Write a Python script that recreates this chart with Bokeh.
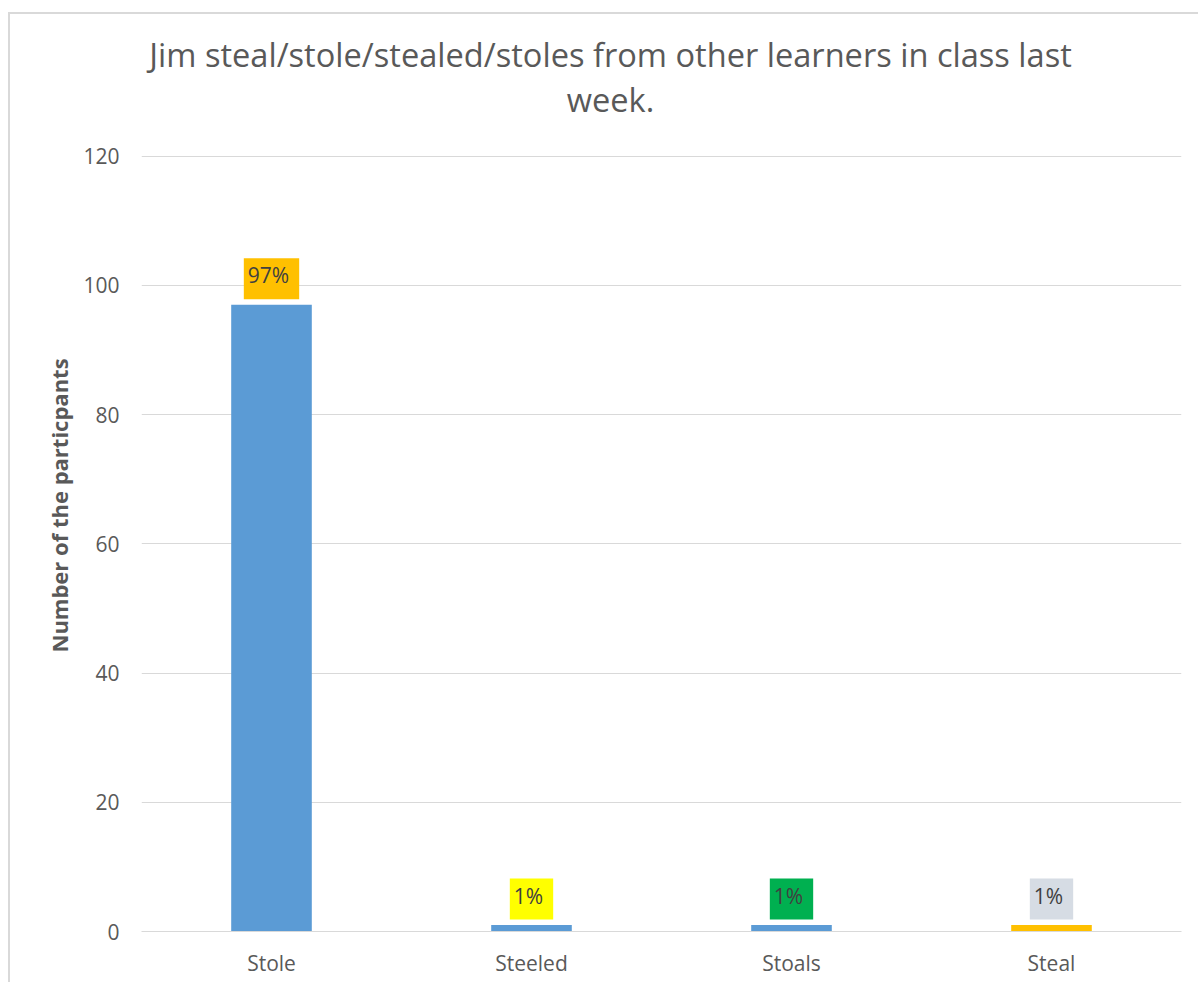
import math
from bokeh.plotting import figure
from bokeh.models import ColumnDataSource, FactorRange, Range1d, FixedTicker, Title
from bokeh.core.properties import value
from bokeh.embed import file_html
from bokeh.resources import INLINE

# ---- data ----
categories = ["Stole", "Steeled", "Stoals", "Steal"]
counts = [97, 1, 1, 1]
pct_labels = ["97%", "1%", "1%", "1%"]
y_ticks = [0, 20, 40, 60, 80, 100, 120]
title_lines = ["Jim steal/stole/stealed/stoles from other learners in class last", "week."]
y_label = "Number of the particpants"

# ---- styles ----
bar_colors = ["#5B9BD5", "#5B9BD5", "#5B9BD5", "#FFC000"]
label_bg = ["#FFC000", "#FFFF00", "#00B050", "#D6DCE4"]
FONT = "Open Sans"
TXT = "#595959"

src = ColumnDataSource(dict(cat=categories, val=counts, lab=pct_labels,
                            color=bar_colors, bg=label_bg))

# the frame extends above the value axis (to 141) so the title can sit inside it
p = figure(x_range=FactorRange(*categories, range_padding=0),
           y_range=Range1d(0, 141),
           width=1190, height=970, output_backend="svg", toolbar_location=None,
           min_border_left=131, min_border_right=19, min_border_top=6, min_border_bottom=53,
           margin=(12, 0, 0, 8))
p.title.visible = False
p.styles = {"border-left": "2px solid #D9D9D9", "border-top": "2px solid #D9D9D9"}
p.outline_line_color = None
p.background_fill_color = "white"
p.border_fill_color = "white"

p.vbar(x="cat", top="val", width=0.31, color="color", source=src, line_color=None)

p.text(x="cat", y="val", text="lab", source=src, text_align="center", text_baseline="middle",
       y_offset=-26, text_font=value(FONT), text_font_size="21px", text_color="#404040",
       background_fill_color="bg", padding=(4, 10, 3, 10))

# chart title, each line centred on the chart area
p.text(x=[1.804, 1.804], y=[135.8, 128.7], text=title_lines, text_align="center",
       text_baseline="middle", text_font=value(FONT), text_font_size="32.6px",
       text_color=TXT)

# axes
p.yaxis.ticker = FixedTicker(ticks=y_ticks)
p.ygrid.ticker = FixedTicker(ticks=y_ticks)
p.ygrid.grid_line_color = "#D9D9D9"
p.ygrid.grid_line_width = 1
p.xgrid.grid_line_color = None
p.yaxis.axis_line_color = None
p.yaxis.major_tick_line_color = None
p.yaxis.minor_tick_line_color = None
p.yaxis.major_tick_out = 0
p.yaxis.major_label_standoff = 22
p.yaxis.major_label_text_font = FONT
p.yaxis.major_label_text_font_size = "21px"
p.yaxis.major_label_text_color = TXT

p.xaxis.axis_line_color = "#D9D9D9"
p.xaxis.major_tick_line_color = None
p.xaxis.minor_tick_line_color = None
p.xaxis.major_tick_out = 0
p.xaxis.major_label_standoff = 17
p.xaxis.major_label_text_font = FONT
p.xaxis.major_label_text_font_size = "21px"
p.xaxis.major_label_text_color = TXT

# y axis title
p.add_layout(Title(text=y_label, align="left", offset=279, standoff=13,
                   text_font=FONT, text_font_size="22px", text_font_style="bold",
                   text_color=TXT), "left")

open("out.html", "w").write(file_html(p, INLINE))
